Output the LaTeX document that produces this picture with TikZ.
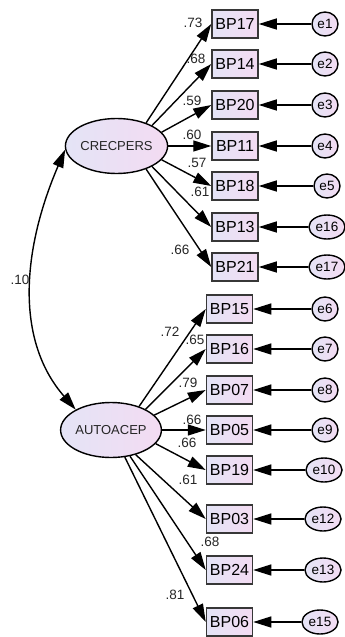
\documentclass[tikz,border=0pt]{standalone}
\usepackage{fontspec}
\setmainfont{Liberation Sans}
\usetikzlibrary{arrows.meta,shapes.geometric}
\definecolor{lav}{RGB}{228,228,246}
\definecolor{pnk}{RGB}{243,219,242}
\definecolor{boxline}{RGB}{55,55,55}
\begin{document}
\begin{tikzpicture}[x=1pt,y=-1pt]
\tikzstyle{obs} = [draw=boxline,line width=1.5pt,left color=lav,right color=pnk,minimum width=46pt,minimum height=28pt,inner sep=0pt,font=\fontsize{16}{16}\selectfont]
\tikzstyle{lat} = [ellipse,draw,line width=1.4pt,left color=lav,right color=pnk,minimum width=94pt,minimum height=55pt,inner sep=0pt,text=black!85,font=\fontsize{13}{13}\selectfont]
\tikzstyle{err} = [ellipse,draw,line width=1.4pt,left color=lav,right color=pnk,minimum width=26pt,minimum height=24pt,inner xsep=1.5pt,inner ysep=0pt,font=\fontsize{13.5}{13.5}\selectfont]
\tikzstyle{ann} = [inner sep=0pt,text=black!85,font=\fontsize{13.5}{13.5}\selectfont]
\tikzstyle{load} = [line width=1.4pt,-{Triangle[length=18pt,width=11pt]}]

\useasboundingbox (0,0) rectangle (345,637);

% latent factors
\node[lat] (crec) at (116.5,146) {CRECPERS};
\node[lat] (auto) at (111,430) {AUTOACEP};

% indicators
\node[obs] (bp17) at (235,24) {BP17};
\node[obs] (bp14) at (235,64) {BP14};
\node[obs] (bp20) at (235,105) {BP20};
\node[obs] (bp11) at (235,146) {BP11};
\node[obs] (bp18) at (235,186) {BP18};
\node[obs] (bp13) at (235,227) {BP13};
\node[obs] (bp21) at (235,267) {BP21};
\node[obs] (bp15) at (229.5,309) {BP15};
\node[obs] (bp16) at (229.5,349) {BP16};
\node[obs] (bp07) at (229.5,390) {BP07};
\node[obs] (bp05) at (229.5,430) {BP05};
\node[obs] (bp19) at (229.5,470) {BP19};
\node[obs] (bp03) at (229.5,519) {BP03};
\node[obs] (bp24) at (229.5,570) {BP24};
\node[obs] (bp06) at (229.5,622) {BP06};

% errors
\node[err] (e1) at (325,24) {e1};
\node[err] (e2) at (325,64) {e2};
\node[err] (e3) at (325,105) {e3};
\node[err] (e4) at (325,146) {e4};
\node[err] (e5) at (327,186) {e5};
\node[err] (e16) at (327,227) {e16};
\node[err] (e17) at (327,267) {e17};
\node[err] (e6) at (325,309) {e6};
\node[err] (e7) at (325,349) {e7};
\node[err] (e8) at (325,390) {e8};
\node[err] (e9) at (325,430) {e9};
\node[err] (e10) at (324,470) {e10};
\node[err] (e12) at (323,519) {e12};
\node[err] (e13) at (323,570) {e13};
\node[err] (e15) at (320,622) {e15};

\draw[load] (e1) -- (bp17);
\draw[load] (e2) -- (bp14);
\draw[load] (e3) -- (bp20);
\draw[load] (e4) -- (bp11);
\draw[load] (e5) -- (bp18);
\draw[load] (e16) -- (bp13);
\draw[load] (e17) -- (bp21);
\draw[load] (e6) -- (bp15);
\draw[load] (e7) -- (bp16);
\draw[load] (e8) -- (bp07);
\draw[load] (e9) -- (bp05);
\draw[load] (e10) -- (bp19);
\draw[load] (e12) -- (bp03);
\draw[load] (e13) -- (bp24);
\draw[load] (e15) -- (bp06);

% loadings
\draw[load] (crec.38) -- (bp17.west);
\draw[load] (crec.30) -- (bp14.west);
\draw[load] (crec.17) -- (bp20.west);
\draw[load] (crec.0) -- (bp11.west);
\draw[load] (crec.-17) -- (bp18.west);
\draw[load] (crec.-30) -- (bp13.west);
\draw[load] (crec.-38) -- (bp21.west);
\draw[load] (auto.40) -- (bp15.west);
\draw[load] (auto.31) -- (bp16.west);
\draw[load] (auto.19) -- (bp07.west);
\draw[load] (auto.0) -- (bp05.west);
\draw[load] (auto.-17) -- (bp19.west);
\draw[load] (auto.-45) -- (bp03.west);
\draw[load] (auto.-54) -- (bp24.west);
\draw[load] (auto.-63) -- (bp06.west);

\node[ann] at (193,23) {.73};
\node[ann] at (196,59) {.68};
\node[ann] at (192,101) {.59};
\node[ann] at (192,135) {.60};
\node[ann] at (197,163) {.57};
\node[ann] at (200,192) {.61};
\node[ann] at (180,250) {.66};
\node[ann] at (170,332) {.72};
\node[ann] at (195,340) {.65};
\node[ann] at (188,383) {.79};
\node[ann] at (192,420) {.66};
\node[ann] at (187,443) {.66};
\node[ann] at (188,480) {.61};
\node[ann] at (210,542) {.68};
\node[ann] at (175,595) {.81};

% covariance
\draw[line width=1.4pt,{Triangle[length=18pt,width=11pt]}-{Triangle[length=18pt,width=11pt]}] (crec.184) .. controls (22,250) and (15,340) .. (auto.150);
\node[ann] at (20,280) {.10};
\end{tikzpicture}
\end{document}
